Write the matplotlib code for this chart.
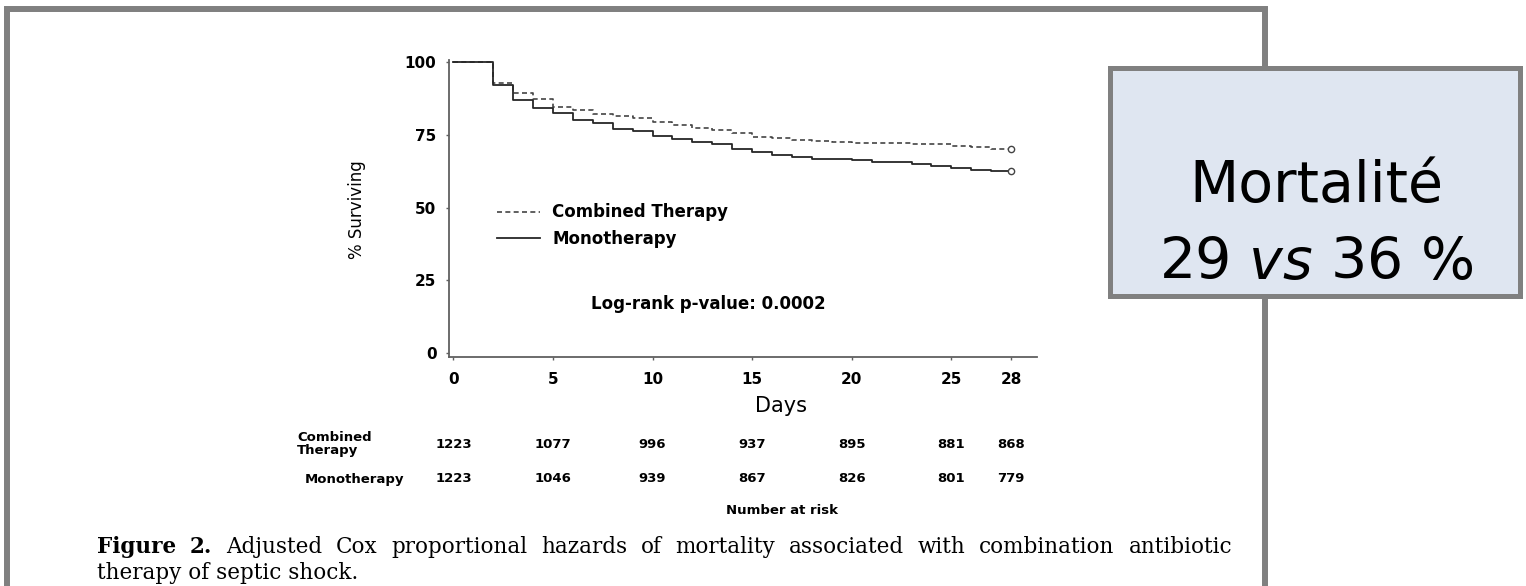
import numpy as np
import matplotlib.pyplot as plt
from matplotlib.patches import Rectangle
from matplotlib.transforms import blended_transform_factory

# Kaplan-Meier style survival, one value per day interval [d, d+1)
days = np.arange(0, 29)
combined = [100, 100, 93.0, 89.6, 87.4, 84.7, 83.6, 82.2, 81.5, 80.7,
            79.5, 78.3, 77.5, 76.6, 75.8, 74.4, 74.1, 73.3, 73.0, 72.6,
            72.4, 72.3, 72.2, 72.0, 71.8, 71.1, 70.8, 70.2, 70.2]
mono = [100, 100, 92.1, 87.0, 84.4, 82.5, 80.2, 79.2, 77.0, 76.3,
        74.6, 73.5, 72.5, 71.9, 70.2, 69.2, 68.3, 67.6, 66.9, 66.7,
        66.4, 65.7, 65.6, 64.9, 64.4, 63.6, 62.9, 62.6, 62.6]

# number at risk table
risk_days = [0, 5, 10, 15, 20, 25, 28]
risk_combined = [1223, 1077, 996, 937, 895, 881, 868]
risk_mono = [1223, 1046, 939, 867, 826, 801, 779]

x_ticks = [0, 5, 10, 15, 20, 25, 28]
y_ticks = [0, 25, 50, 75, 100]

caption_1 = "Figure 2. Adjusted Cox proportional hazards of mortality associated with combination antibiotic"
caption_2 = "therapy of septic shock."

W, H = 1526, 586
def fx(x): return x / W
def fy(y): return 1 - y / H

fig = plt.figure(figsize=(W / 100, H / 100), dpi=100)
fig.patch.set_facecolor('white')

# outer gray frame of the slide, running off the bottom edge
fig.patches.append(Rectangle((fx(7), fy(640)), fx(1265) - fx(7), fy(9) - fy(640),
                             transform=fig.transFigure, fill=False,
                             edgecolor='#808080', lw=4.3, zorder=1))

ax = fig.add_axes([fx(449), fy(356.7), fx(1037) - fx(449), fy(60) - fy(356.7)])
ax.step(days, combined, where='post', color='#444444', lw=1.2,
        ls=(0, (3, 2)), label='Combined Therapy')
ax.step(days, mono, where='post', color='#262626', lw=1.3, label='Monotherapy')
ax.plot(days[-1], combined[-1], 'o', mfc='white', mec='#444444', ms=4.5, mew=1)
ax.plot(days[-1], mono[-1], 'o', mfc='white', mec='#444444', ms=4.5, mew=1)

ax.set_xlim(-0.22, 29.3)
ax.set_ylim(-1.2, 100.8)
ax.set_xticks(x_ticks)
ax.set_yticks(y_ticks)
for s in ['top', 'right']:
    ax.spines[s].set_visible(False)
for s in ['left', 'bottom']:
    ax.spines[s].set_color('#606060')
    ax.spines[s].set_linewidth(1.3)
ax.tick_params(axis='both', direction='out', length=2.5, width=1, color='#606060')
ax.tick_params(axis='x', pad=8.6)
ax.tick_params(axis='y', pad=6.5)
for lab in ax.get_xticklabels() + ax.get_yticklabels():
    lab.set_fontweight('bold')
    lab.set_fontsize(11)

ax.legend(loc='center left', bbox_to_anchor=(fx(497), fy(225.5)),
          bbox_transform=fig.transFigure, frameon=False, borderpad=0,
          borderaxespad=0, handlelength=2.6, handletextpad=0.7,
          labelspacing=0.5, prop={'weight': 'bold', 'size': 12})

fig.text(fx(708), fy(304), 'Log-rank p-value: 0.0002', ha='center', va='center',
         fontsize=12, fontweight='bold')
fig.text(fx(357), fy(210), '% Surviving', rotation=90, ha='center', va='center',
         fontsize=12)
fig.text(fx(781), fy(406), 'Days', ha='center', va='center', fontsize=15)

# number at risk rows
tr = blended_transform_factory(ax.transData, fig.transFigure)
for d, n1, n2 in zip(risk_days, risk_combined, risk_mono):
    ax.text(d, fy(444), str(n1), transform=tr, ha='center', va='center',
            fontsize=9.5, fontweight='bold', clip_on=False)
    ax.text(d, fy(479), str(n2), transform=tr, ha='center', va='center',
            fontsize=9.5, fontweight='bold', clip_on=False)
fig.text(fx(297), fy(444), 'Combined\nTherapy', ha='left', va='center',
         fontsize=9.5, fontweight='bold', linespacing=1.0)
fig.text(fx(355), fy(479), 'Monotherapy', ha='center', va='center',
         fontsize=9.5, fontweight='bold')
fig.text(fx(782), fy(510), 'Number at risk', ha='center', va='center',
         fontsize=9.5, fontweight='bold')

# justified caption, first line spread between the margins
renderer = fig.canvas.get_renderer()
words = caption_1.split()
texts = []
for i, w in enumerate(words):
    t = fig.text(0, fy(547), w, ha='left', va='center', family='DejaVu Serif',
                 fontsize=15.5, fontweight='bold' if i < 2 else 'normal')
    texts.append(t)
widths = [t.get_window_extent(renderer).width for t in texts]
gap = (1232 - 97 - sum(widths)) / (len(words) - 1)
x = 97
for t, w in zip(texts, widths):
    t.set_x(fx(x))
    x += w + gap
fig.text(fx(97), fy(573), caption_2, ha='left', va='center', family='DejaVu Serif',
         fontsize=15.5)

# highlighted result box on the right
fig.patches.append(Rectangle((fx(1110), fy(296)), fx(1520) - fx(1110), fy(68) - fy(296),
                             transform=fig.transFigure, facecolor='#dfe6f1',
                             edgecolor='#808080', lw=3.6, zorder=3))
fig.text(fx(1316), fy(186), 'Mortalité', ha='center', va='center', fontsize=41,
         zorder=4)
fig.text(fx(1316), fy(263), r'29 $\mathit{vs}$ 36 %', ha='center', va='center',
         fontsize=41, zorder=4)

fig.savefig('out.png', dpi=100)
